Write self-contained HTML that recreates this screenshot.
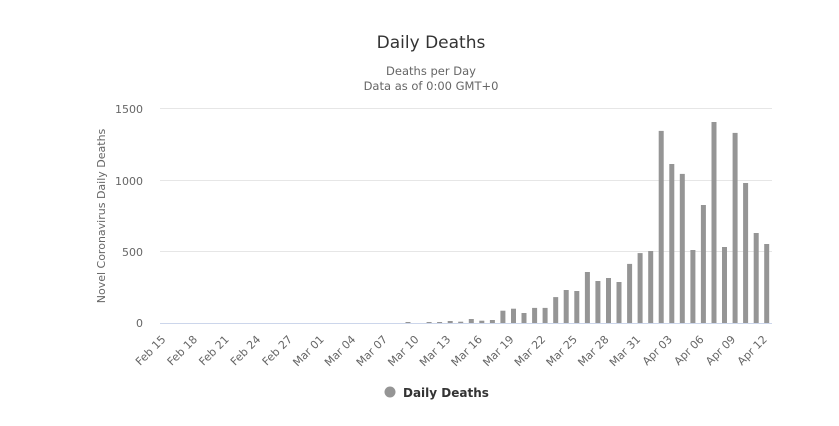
<!DOCTYPE html>
<html><head><meta charset="utf-8"><style>
html,body{margin:0;padding:0;background:#fff;}
svg text{font-family:"DejaVu Sans","Liberation Sans",sans-serif;}
</style></head><body>
<svg width="839" height="421" xmlns="http://www.w3.org/2000/svg">
<rect width="839" height="421" fill="#fff"/>
<text x="431" y="48" text-anchor="middle" font-size="17" fill="#333">Daily Deaths</text>
<text x="431" y="75" text-anchor="middle" font-size="11.5" fill="#666">Deaths per Day</text>
<text x="431" y="90" text-anchor="middle" font-size="11.5" fill="#666">Data as of 0:00 GMT+0</text>
<g stroke="#e6e6e6" stroke-width="1">
<line x1="160" y1="108.5" x2="772" y2="108.5"/>
<line x1="160" y1="180.5" x2="772" y2="180.5"/>
<line x1="160" y1="251.5" x2="772" y2="251.5"/>
</g>
<line x1="160" y1="323.5" x2="772" y2="323.5" stroke="#ccd6eb"/>
<g font-size="11" fill="#666" text-anchor="end">
<text x="143" y="113">1500</text>
<text x="143" y="185">1000</text>
<text x="143" y="256">500</text>
<text x="143" y="327">0</text>
</g>
<text transform="translate(105,216) rotate(-90)" text-anchor="middle" font-size="11" fill="#666">Novel Coronavirus Daily Deaths</text>
<g fill="#959595">
<rect x="405.5" y="322" width="5" height="1"/>
<rect x="426.6" y="322" width="5" height="1"/>
<rect x="437.1" y="322" width="5" height="1"/>
<rect x="447.7" y="321" width="5" height="2"/>
<rect x="458.2" y="321.7" width="5" height="1.3"/>
<rect x="468.8" y="319" width="5" height="4"/>
<rect x="479.3" y="320.7" width="5" height="2.3"/>
<rect x="489.9" y="320" width="5" height="3"/>
<rect x="500.4" y="310.7" width="5" height="12.3"/>
<rect x="511.0" y="308.7" width="5" height="14.3"/>
<rect x="521.5" y="313" width="5" height="10"/>
<rect x="532.1" y="307.9" width="5" height="15.1"/>
<rect x="542.6" y="307.9" width="5" height="15.1"/>
<rect x="553.2" y="297.1" width="5" height="25.9"/>
<rect x="563.7" y="290" width="5" height="33"/>
<rect x="574.3" y="291" width="5" height="32"/>
<rect x="584.9" y="272" width="5" height="51"/>
<rect x="595.4" y="281" width="5" height="42"/>
<rect x="606.0" y="278" width="5" height="45"/>
<rect x="616.5" y="282" width="5" height="41"/>
<rect x="627.1" y="263.9" width="5" height="59.1"/>
<rect x="637.6" y="253.1" width="5" height="69.9"/>
<rect x="648.2" y="251" width="5" height="72"/>
<rect x="658.7" y="130.9" width="5" height="192.1"/>
<rect x="669.3" y="164" width="5" height="159"/>
<rect x="679.8" y="173.9" width="5" height="149.1"/>
<rect x="690.4" y="250" width="5" height="73"/>
<rect x="700.9" y="205" width="5" height="118"/>
<rect x="711.5" y="122" width="5" height="201"/>
<rect x="722.0" y="247" width="5" height="76"/>
<rect x="732.6" y="132.9" width="5" height="190.1"/>
<rect x="743.1" y="183" width="5" height="140"/>
<rect x="753.7" y="233" width="5" height="90"/>
<rect x="764.2" y="244" width="5" height="79"/>
</g>
<g font-size="11" fill="#666" text-anchor="end">
<text transform="translate(166.3,340) rotate(-45)">Feb 15</text>
<text transform="translate(197.9,340) rotate(-45)">Feb 18</text>
<text transform="translate(229.6,340) rotate(-45)">Feb 21</text>
<text transform="translate(261.2,340) rotate(-45)">Feb 24</text>
<text transform="translate(292.9,340) rotate(-45)">Feb 27</text>
<text transform="translate(324.6,340) rotate(-45)">Mar 01</text>
<text transform="translate(356.2,340) rotate(-45)">Mar 04</text>
<text transform="translate(387.9,340) rotate(-45)">Mar 07</text>
<text transform="translate(419.5,340) rotate(-45)">Mar 10</text>
<text transform="translate(451.2,340) rotate(-45)">Mar 13</text>
<text transform="translate(482.8,340) rotate(-45)">Mar 16</text>
<text transform="translate(514.5,340) rotate(-45)">Mar 19</text>
<text transform="translate(546.1,340) rotate(-45)">Mar 22</text>
<text transform="translate(577.8,340) rotate(-45)">Mar 25</text>
<text transform="translate(609.5,340) rotate(-45)">Mar 28</text>
<text transform="translate(641.1,340) rotate(-45)">Mar 31</text>
<text transform="translate(672.8,340) rotate(-45)">Apr 03</text>
<text transform="translate(704.4,340) rotate(-45)">Apr 06</text>
<text transform="translate(736.1,340) rotate(-45)">Apr 09</text>
<text transform="translate(767.7,340) rotate(-45)">Apr 12</text>
</g>
<circle cx="390" cy="392" r="5.5" fill="#959595"/>
<text x="403" y="397" font-size="12" font-weight="bold" fill="#333">Daily Deaths</text>
</svg>
</body></html>
